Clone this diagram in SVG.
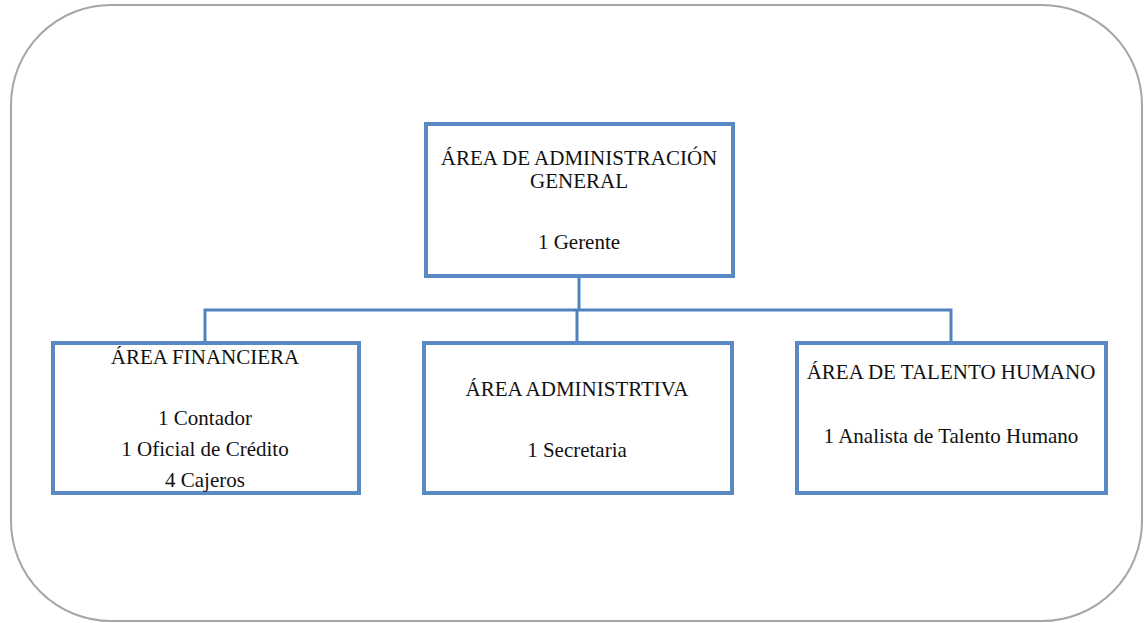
<svg xmlns="http://www.w3.org/2000/svg" width="1146" height="623" viewBox="0 0 1146 623">
  <style>
    .frame { fill: #ffffff; stroke: #a6a6a6; stroke-width: 2; }
    .box { fill: #ffffff; stroke: #5a8ac4; stroke-width: 4; }
    .link { fill: none; stroke: #5082bc; stroke-width: 3; }
    text { font-family: "Liberation Serif", "Times New Roman", serif; font-size: 21px; fill: #111111; text-anchor: middle; }
  </style>
  <rect width="1146" height="623" fill="#ffffff"/>
  <!-- outer rounded frame -->
  <rect class="frame" x="11" y="5" width="1131" height="616" rx="100" ry="100"/>

  <!-- connectors -->
  <g id="connectors">
    <path class="link" d="M579 277 V310"/>
    <path class="link" d="M205 343 V310 H951 V343"/>
    <path class="link" d="M577 310 V343"/>
  </g>

  <g id="node-general">
    <rect class="box" x="426" y="124" width="307" height="152"/>
    <text x="579" y="165">ÁREA DE ADMINISTRACIÓN</text>
    <text x="579" y="188">GENERAL</text>
    <text x="579" y="249">1 Gerente</text>
  </g>

  <g id="node-financiera">
    <rect class="box" x="53" y="343" width="306" height="150"/>
    <text x="205" y="364">ÁREA FINANCIERA</text>
    <text x="205" y="425">1 Contador</text>
    <text x="205" y="456">1 Oficial de Crédito</text>
    <text x="205" y="487">4 Cajeros</text>
  </g>

  <g id="node-administrativa">
    <rect class="box" x="424" y="343" width="308" height="150"/>
    <text x="577" y="396">ÁREA ADMINISTRTIVA</text>
    <text x="577" y="457">1 Secretaria</text>
  </g>

  <g id="node-talento">
    <rect class="box" x="797" y="343" width="309" height="150"/>
    <text x="951" y="379">ÁREA DE TALENTO HUMANO</text>
    <text x="951" y="443">1 Analista de Talento Humano</text>
  </g>
</svg>
